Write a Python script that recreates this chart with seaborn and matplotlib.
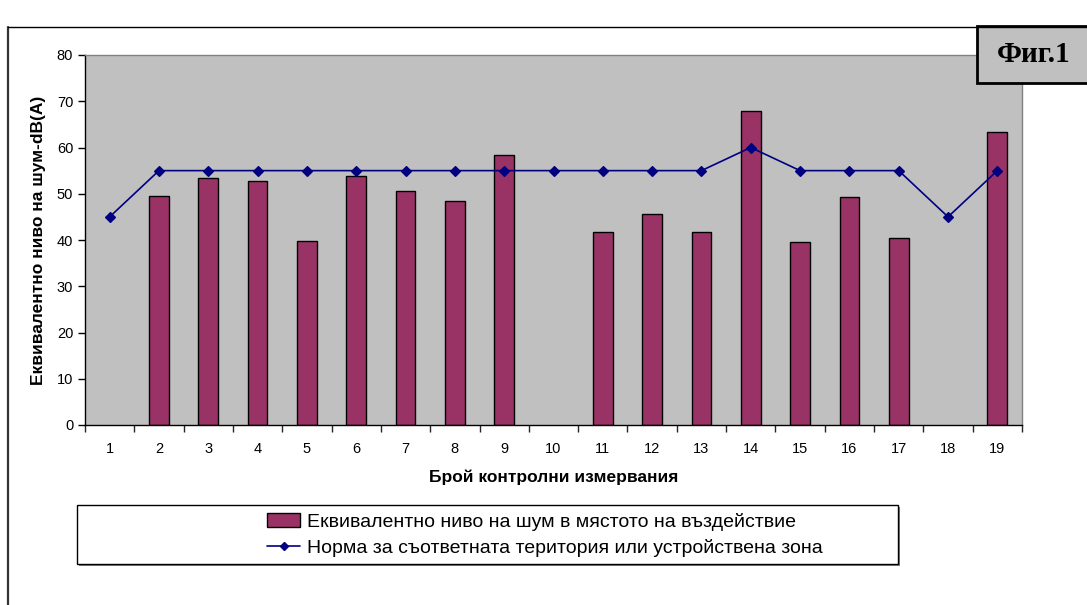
import matplotlib
matplotlib.use("Agg")
import matplotlib.pyplot as plt
import matplotlib.patches as mpatches
from matplotlib.lines import Line2D
import seaborn as sns
import numpy as np
import pandas as pd

# measurement numbers and readings (dB(A))
measurements = [str(i) for i in range(1, 20)]
noise_level = [np.nan, 49.6, 53.3, 52.8, 39.8, 53.8, 50.7, 48.5, 58.4, np.nan,
               41.8, 45.7, 41.8, 67.9, 39.5, 49.4, 40.4, np.nan, 63.4]
norm_level = [45, 55, 55, 55, 55, 55, 55, 55, 55, 55,
              55, 55, 55, 60, 55, 55, 55, 45, 55]

bar_label = "Еквивалентно ниво на шум в мястото на въздействие"
line_label = "Норма за съответната територия или устройствена зона"

sns.set_theme(style="white")
plt.rcParams['font.family'] = ['Liberation Sans', 'DejaVu Sans']
plt.rcParams['text.color'] = 'black'
plt.rcParams['axes.labelcolor'] = 'black'

df = pd.DataFrame({"n": measurements, "noise": noise_level, "norm": norm_level})

W, H = 1087, 605
fig = plt.figure(figsize=(W / 100, H / 100), dpi=100)
ax = fig.add_axes([85 / W, 1 - 425 / H, 937 / W, 370 / H])
ax.set_facecolor("#C0C0C0")

sns.barplot(data=df, x="n", y="noise", order=measurements, color="#993366",
            saturation=1, width=0.4, edgecolor="black", linewidth=1, ax=ax)
sns.pointplot(data=df, x="n", y="norm", order=measurements, color="#000080",
              markers="D", markersize=5, linewidth=1.2, ax=ax)

ax.set_ylim(0, 80)
ax.set_yticks(np.arange(0, 81, 10))
ax.set_xlim(-0.5, len(measurements) - 0.5)
ax.tick_params(axis="both", labelsize=10.5, colors="black", labelcolor="black",
               direction="out", length=5, width=1)
ax.tick_params(axis="x", length=0, pad=12)
ax.set_xticks(np.arange(-0.5, len(measurements), 1.0), minor=True)
ax.tick_params(axis="x", which="minor", length=5, width=1, bottom=True)
ax.tick_params(axis="y", left=True)

for side in ["top", "right"]:
    ax.spines[side].set_color("#808080")
    ax.spines[side].set_linewidth(1)
for side in ["left", "bottom"]:
    ax.spines[side].set_color("black")
    ax.spines[side].set_linewidth(1)

ax.set_xlabel("Брой контролни измервания", fontsize=12.5, fontweight="bold",
              labelpad=10, color="black")
ax.set_ylabel("Еквивалентно ниво на шум-dB(A)", fontsize=12.5, fontweight="bold",
              labelpad=8, color="black")

# legend frame drawn by hand so it can be as wide as in the original
fig.add_artist(mpatches.Rectangle((79 / W, 1 - 566 / H), 821 / W, 59 / H,
                                  facecolor="#808080", edgecolor="none",
                                  transform=fig.transFigure))
fig.add_artist(mpatches.Rectangle((77 / W, 1 - 564 / H), 821 / W, 59 / H,
                                  facecolor="white", edgecolor="black", linewidth=1,
                                  transform=fig.transFigure))
handles = [mpatches.Patch(facecolor="#993366", edgecolor="black", linewidth=1),
           Line2D([], [], color="#000080", marker="D", markersize=4, linewidth=1.2)]
leg = fig.legend(handles, [bar_label, line_label], loc="center left",
                 bbox_to_anchor=(267 / W, 1 - 535 / H), fontsize=14, frameon=False,
                 handlelength=1.7, handletextpad=0.35, borderpad=0,
                 borderaxespad=0, labelspacing=0.42, labelcolor="black")

# outer chart frame (left and top edges visible)
fig.add_artist(Line2D([8 / W, 8 / W], [0, 1 - 27 / H], color="#333333",
                      linewidth=1.6, transform=fig.transFigure))
fig.add_artist(Line2D([8 / W, 1], [1 - 27 / H, 1 - 27 / H], color="black",
                      linewidth=1, transform=fig.transFigure))

# "Фиг.1" label box
fig.add_artist(mpatches.Rectangle((977 / W, 1 - 83 / H), 112 / W, 57 / H,
                                  facecolor="#C0C0C0", edgecolor="black", linewidth=2,
                                  transform=fig.transFigure))
fig.text(1034 / W, 1 - 55 / H, "Фиг.1", ha="center", va="center", fontsize=21,
         fontweight="bold", color="black", family=["Liberation Serif", "DejaVu Serif"])

fig.savefig("out.png", dpi=100)
